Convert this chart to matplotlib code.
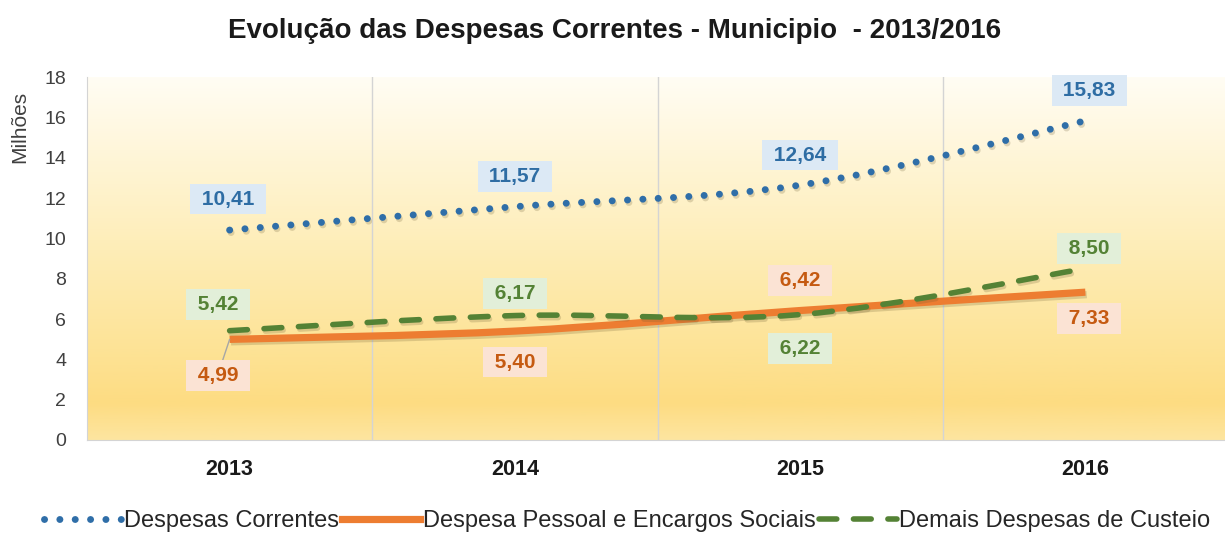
"""
Evolucao das Despesas Correntes - Municipio - 2013/2016
Line chart (Excel style) with smoothed lines, value labels and a gradient background.
"""
import numpy as np
import matplotlib
matplotlib.use("Agg")
import matplotlib.pyplot as plt
import matplotlib.patheffects as pe
from matplotlib.path import Path
from matplotlib.patches import PathPatch
from matplotlib.lines import Line2D
from matplotlib.colors import LinearSegmentedColormap

plt.rcParams['font.family'] = ['Liberation Sans', 'DejaVu Sans']

# data (milhoes)
anos = ['2013', '2014', '2015', '2016']
despesas_correntes = [10.41, 11.57, 12.64, 15.83]
despesa_pessoal = [4.99, 5.40, 6.42, 7.33]
demais_despesas = [5.42, 6.17, 6.22, 8.50]

nomes = ['Despesas Correntes', 'Despesa Pessoal e Encargos Sociais',
         'Demais Despesas de Custeio']

# label offsets in pixels (dx, dy) for each point
off_azul = [(-2, 31), (0, 30), (0, 30), (4, 30)]
off_laranja = [(-12, -36), (0, -31), (0, 30), (4, -26)]
off_verde = [(-12, 26), (0, 22), (0, -34), (4, 20)]


def smooth_path(xs, ys):
    # Catmull-Rom style bezier through the points (like Excel's smoothed line)
    pts = np.column_stack([xs, ys]).astype(float)
    n = len(pts)
    verts = [pts[0]]
    codes = [Path.MOVETO]
    for i in range(n - 1):
        p0 = pts[i - 1] if i > 0 else pts[i]
        p1 = pts[i]
        p2 = pts[i + 1]
        p3 = pts[i + 2] if i + 2 < n else pts[i + 1]
        c1 = p1 + (p2 - p0) / 6.0
        c2 = p2 - (p3 - p1) / 6.0
        verts += [c1, c2, p2]
        codes += [Path.CURVE4] * 3
    return Path(verts, codes)


fig = plt.figure(figsize=(12.25, 5.34), dpi=100)
ax = fig.add_axes([87 / 1225, 1 - 440 / 534, 1141 / 1225, 363 / 534])

x = np.arange(len(anos))
ax.set_xlim(-0.5, 3.5)
ax.set_ylim(0, 18)

# gradient background
cmap = LinearSegmentedColormap.from_list('fundo', [
    (0.0, '#FFFDF4'), (0.2, '#FFF6DA'), (0.45, '#FEEEBA'),
    (0.75, '#FDE396'), (0.9, '#FDDC82'), (1.0, '#FDE5A0')])
grad = np.linspace(0, 1, 256).reshape(-1, 1)
ax.imshow(grad, cmap=cmap, extent=(-0.5, 3.5, 0, 18), aspect='auto',
          origin='upper', zorder=0)

# gridlines between categories
for b in [0.5, 1.5, 2.5]:
    ax.axvline(b, color='#D4D4D4', lw=1, zorder=1)

sombra = [pe.SimpleLineShadow(offset=(1, -1.8), shadow_color='#6b5a30', alpha=0.22),
          pe.Normal()]

azul = '#2F6EA8'
laranja = '#ED7D31'
verde = '#548235'
pontilhado = (0, (0.01, 2.2))
tracejado = (0, (3.2, 3.0))

# orange solid
p = PathPatch(smooth_path(x, despesa_pessoal), fill=False, edgecolor=laranja,
              lw=5.2, capstyle='butt', zorder=3, path_effects=sombra)
ax.add_patch(p)
# green dashed
p = PathPatch(smooth_path(x, demais_despesas), fill=False, edgecolor=verde,
              lw=4.0, linestyle=tracejado, capstyle='round', zorder=4,
              path_effects=sombra)
ax.add_patch(p)
# blue dotted
p = PathPatch(smooth_path(x, despesas_correntes), fill=False, edgecolor=azul,
              lw=5.0, linestyle=pontilhado, capstyle='round', zorder=4,
              path_effects=sombra)
ax.add_patch(p)


def rotulos(vals, offs, cor_txt, cor_fundo, linha=False):
    for i, v in enumerate(vals):
        dx, dy = offs[i]
        txt = ' ' + ('%.2f' % v).replace('.', ',') + ' '
        kw = {}
        if linha and i == 0:
            kw['arrowprops'] = dict(arrowstyle='-', color='#A6A6A6', lw=1,
                                    shrinkA=0, shrinkB=0)
        ax.annotate(txt, (x[i], v), xytext=(dx, dy), textcoords='offset pixels',
                    ha='center', va='center', fontsize=15, fontweight='bold',
                    color=cor_txt, zorder=6,
                    bbox=dict(boxstyle='square,pad=0.28', fc=cor_fundo, ec='none'),
                    **kw)


rotulos(despesas_correntes, off_azul, '#2E6DA4', '#DCE9F5')
rotulos(despesa_pessoal, off_laranja, '#C55A11', '#FBE3D4', linha=True)
rotulos(demais_despesas, off_verde, '#548235', '#E2EFD9')

# axes styling
for s in ['top', 'right']:
    ax.spines[s].set_visible(False)
for s in ['left', 'bottom']:
    ax.spines[s].set_color('#D4D4D4')
    ax.spines[s].set_zorder(2)
ax.set_yticks(range(0, 19, 2))
ax.tick_params(axis='y', length=0, labelsize=14, colors='#404040', pad=15)
ax.set_xticks(x)
ax.set_xticklabels(anos, fontsize=15.5, fontweight='bold', color='#1a1a1a')
ax.tick_params(axis='x', length=0, pad=14)

fig.text(20 / 1225, 1 - 127 / 534, 'Milhões', rotation=90, ha='center',
         va='center', fontsize=15, color='#404040')

fig.text(615 / 1225, 1 - 31 / 534,
         'Evolução das Despesas Correntes - Municipio  - 2013/2016',
         ha='center', va='center', fontsize=20, fontweight='bold', color='#1a1a1a')

handles = [
    Line2D([], [], color=azul, lw=5.0, linestyle=pontilhado,
           dash_capstyle='round'),
    Line2D([], [], color=laranja, lw=5.2),
    Line2D([], [], color=verde, lw=4.0, linestyle=tracejado,
           dash_capstyle='round'),
]
fig.legend(handles, nomes, loc='center', bbox_to_anchor=(627 / 1225, 1 - 521 / 534),
           ncol=3, frameon=False, fontsize=17, handlelength=3.3,
           handletextpad=0.1, columnspacing=0.15, labelcolor='#262626')

fig.savefig('out.png', dpi=100, facecolor='white')
